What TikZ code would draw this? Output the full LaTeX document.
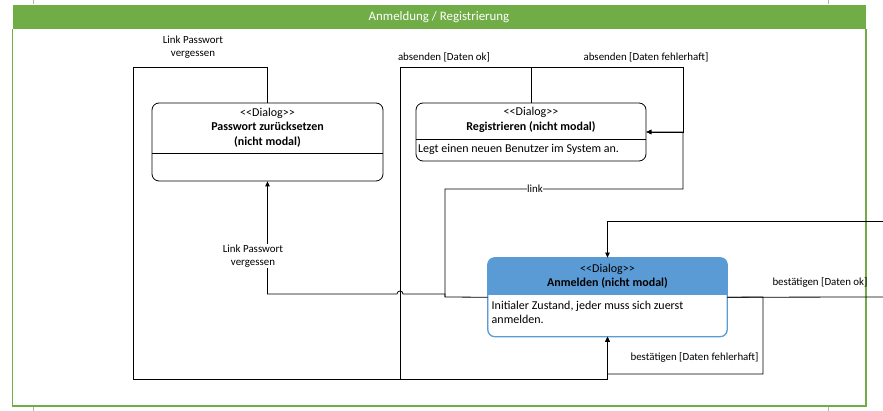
\documentclass[tikz,border=0pt]{standalone}
\usepackage{fontspec}
\setmainfont{Carlito}
\usetikzlibrary{arrows.meta}
\definecolor{grn}{HTML}{70AD47}
\definecolor{blu}{HTML}{5B9BD5}
\newcommand\dlg{<\kern0pt<Dialog>\kern0pt>}
\tikzset{
  conn/.style={line width=0.8pt, draw=black},
  arr/.style={conn, -{Triangle[length=5pt,width=4.5pt]}},
  box/.style={draw, line width=0.8pt, rounded corners=7pt, fill=white, inner sep=0pt},
  lbl/.style={font=\fontsize{10.9}{13}\selectfont, inner sep=1pt, align=center},
  boxtitle/.style={font=\fontsize{12}{14.5}\selectfont, inner sep=0pt, align=center},
  boxbody/.style={font=\fontsize{12}{14}\selectfont, inner sep=0pt, align=left, anchor=west},
  tick/.style={draw=gray!60, line width=0.6pt},
}
\begin{document}
\begin{tikzpicture}[x=1pt,y=-1pt]
\useasboundingbox (0,0) rectangle (883,411);
% frame
\fill[grn] (13,5) rectangle (866,29);
\node[font=\fontsize{12.9}{15}\selectfont, text=white] (title) at (439,17.5) {Anmeldung / Registrierung};
\draw[grn, line width=1.3pt] (12.5,29) -- (12.5,406) -- (866,406) -- (866,29);
\draw[tick] (33,0) -- (33,4);
\draw[tick] (828,0) -- (828,4);
\draw[tick] (33,407) -- (33,411);
\draw[tick] (828,407) -- (828,411);

% boxes
\node[box, minimum width=231pt, minimum height=78pt] (pw) at (267.5,142) {};
\draw[line width=0.8pt] (pw.west |- 0,153.5) -- (pw.east |- 0,153.5);
\node[boxtitle] (pwt) at (267.5,127.5) {\dlg\\\textbf{Passwort zurücksetzen}\\\textbf{(nicht modal)}};

\node[box, minimum width=230pt, minimum height=58pt] (reg) at (531,132) {};
\draw[line width=0.8pt] (reg.west |- 0,139.5) -- (reg.east |- 0,139.5);
\node[boxtitle] (regt) at (531,120) {\dlg\\\textbf{Registrieren (nicht modal)}};
\node[boxbody] (regb) at (418,149.5) {Legt einen neuen Benutzer im System an.};

\node[box, draw=blu, minimum width=239pt, minimum height=78.5pt] (an) at (607.5,297.25) {};
\begin{scope}
  \clip (480,250) rectangle (735,295);
  \fill[blu, rounded corners=7pt] (an.north west) rectangle (an.south east);
\end{scope}
\draw[blu, line width=0.8pt, rounded corners=7pt] (an.north west) rectangle (an.south east);
\node[boxtitle] (ant) at (607.5,276) {\dlg\\\textbf{Anmelden (nicht modal)}};
\node[boxbody] (anb) at (491.5,312.5) {Initialer Zustand, jeder muss sich zuerst\\anmelden.};

% connectors
\coordinate (okend) at (883,297);
\coordinate (inend) at (883,221);
\draw[arr] (pw.north) |- (133,67) -- (133,379) -| (an.south);
\draw[arr] (reg.north) |- (400,67) -- (400,379) -| (an.south);
\draw[arr] (reg.north) |- (683,67) |- (reg.east);
\draw[arr] (an.west) -- (445,297) |- (683,189) |- (reg.east);
\draw[arr] (445,297) -- (445,294) -- (403,294) arc[start angle=0, end angle=180, radius=3pt] -- (267.5,294) -- (pw.south);
\draw[conn] (an.east) -- (okend);
\draw[arr] (an.east) -- (763,297) |- (607.5,374) -- (an.south);
\draw[arr] (inend) -| (an.north);

% labels
\node[lbl] (l1) at (193,47.5) {Link Passwort\\vergessen};
\node[lbl] (l2) at (444,57) {absenden [Daten ok]};
\node[lbl] (l3) at (646,57) {absenden [Daten fehlerhaft]};
\node[lbl, fill=white, inner sep=0.5pt] (l4) at (535,189) {link};
\node[lbl, fill=white] (l5) at (253,256) {Link Passwort\\vergessen};
\node[lbl] (l6) at (820,282.5) {bestätigen [Daten ok]};
\node[lbl] (l7) at (694.5,357) {bestätigen [Daten fehlerhaft]};
\end{tikzpicture}
\end{document}
